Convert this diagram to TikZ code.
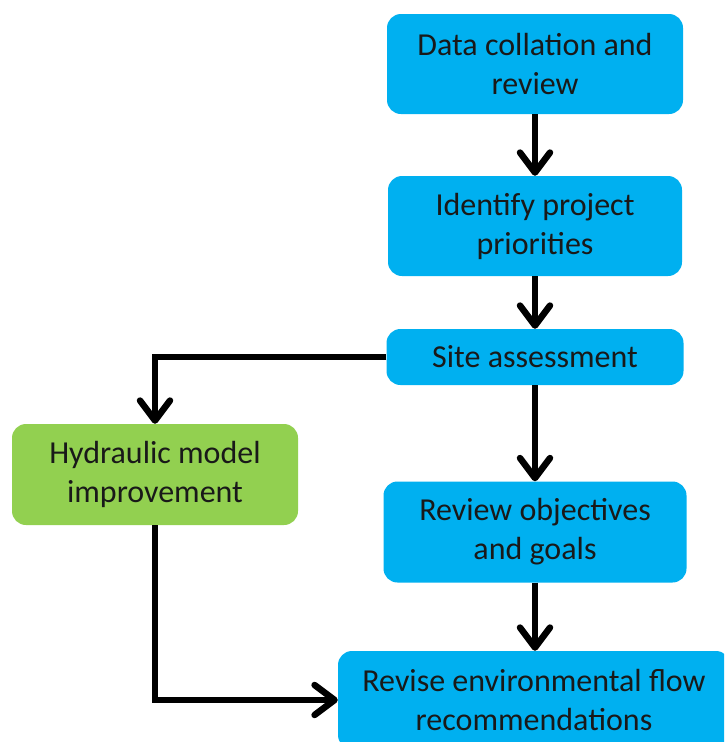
\documentclass[tikz,border=0pt]{standalone}
\usepackage{fontspec}
\setmainfont{Carlito}
\usetikzlibrary{arrows.meta}
\definecolor{stepblue}{HTML}{00B0F0}
\definecolor{stepgreen}{HTML}{92D050}
\begin{document}
\begin{tikzpicture}[
  x=1pt, y=-1pt,
  every node/.style={
    rounded corners=14pt,
    align=center,
    inner sep=0pt,
    text=black!90,
    font=\fontsize{32}{39}\selectfont
  },
  bluebox/.style={fill=stepblue},
  greenbox/.style={fill=stepgreen},
  arrow/.style={-{Straight Barb[length=20pt,width=30pt,round]}, line width=6.5pt}
]
\clip (0,0) rectangle (724,742);
\fill[white] (0,0) rectangle (724,742);
\node (data) [bluebox, minimum width=296pt, minimum height=100pt] at (535,64) {Data collation and\\review};
\node (priority) [bluebox, minimum width=294pt, minimum height=100pt] at (535,226) {Identify project\\priorities};
\node (site) [bluebox, minimum width=297pt, minimum height=56pt] at (535,357) {Site assessment};
\node (hydro) [greenbox, minimum width=286pt, minimum height=101pt] at (155,474.5) {Hydraulic model\\improvement};
\node (goals) [bluebox, minimum width=303pt, minimum height=101pt] at (535,532) {Review objectives\\and goals};
\node (revise) [bluebox, minimum width=392pt, minimum height=98pt] at (534,700) {Revise environmental flow\\recommendations};

\draw[arrow] (data.south) -- (priority.north);
\draw[arrow] (priority.south) -- (site.north);
\draw[arrow] (site.south) -- (goals.north);
\draw[arrow] (goals.south) -- (goals.south |- revise.north);
\draw[arrow] (site.west) -| (hydro.north);
\draw[arrow] (hydro.south) |- (revise.west);
\end{tikzpicture}
\end{document}
